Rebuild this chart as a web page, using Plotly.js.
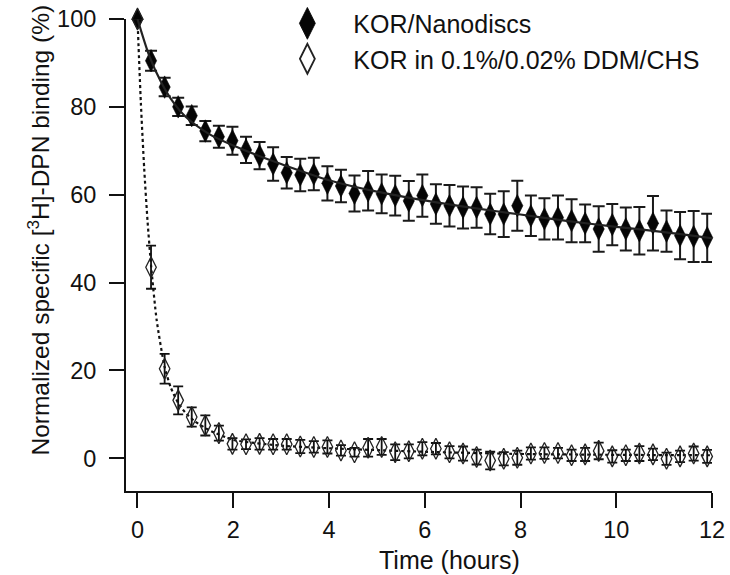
<!DOCTYPE html>
<html>
<head>
<meta charset="utf-8">
<script src="https://cdn.plot.ly/plotly-3.0.1.min.js"></script>
<style>html,body{margin:0;padding:0;background:#fff;}#chart{width:730px;height:575px;}</style>
</head>
<body>
<div id="chart"></div>
<script>
// Time points (hours), one every 17 min
var timeHours = [0, 0.283, 0.567, 0.85, 1.133, 1.417, 1.7, 1.983, 2.267, 2.55, 2.833, 3.117, 3.4, 3.683, 3.967, 4.25, 4.533, 4.817, 5.1, 5.383, 5.667, 5.95, 6.233, 6.517, 6.8, 7.083, 7.367, 7.65, 7.933, 8.217, 8.5, 8.783, 9.067, 9.35, 9.633, 9.917, 10.2, 10.483, 10.767, 11.05, 11.333, 11.617, 11.9];

// KOR/Nanodiscs
var nanodiscMean = [100, 90.5, 84.5, 80, 78, 74.5, 73.2, 72.3, 70.2, 68.9, 67, 65, 64.5, 64.7, 62.6, 62, 60.3, 60.9, 60.2, 59.8, 58.6, 59.8, 57.9, 57.5, 57.1, 57.1, 55.6, 55.6, 57.5, 55.2, 54.5, 54.8, 54.1, 53.5, 52.2, 53.2, 52.2, 51.8, 53.5, 51.7, 50.7, 50.5, 50.2];
var nanodiscErr = [0, 2.3, 2.1, 2.1, 2.1, 2.3, 2.5, 3.2, 3.0, 3.1, 3.8, 3.6, 3.7, 3.7, 3.9, 3.7, 4.1, 4.5, 4.4, 4.5, 4.5, 4.8, 4.5, 4.7, 4.8, 4.6, 4.6, 5.2, 5.7, 4.6, 4.7, 5.0, 4.9, 4.3, 5.2, 4.7, 4.9, 5.4, 6.2, 4.7, 5.4, 5.8, 5.5];

// KOR in 0.1%/0.02% DDM/CHS
var detergentMean = [100, 43.5, 20.4, 13.2, 9.4, 7.5, 5.75, 3.3, 3.2, 3.3, 3.2, 3.2, 2.7, 2.6, 2.6, 1.8, 1.4, 2.4, 2.6, 1.4, 1.6, 2.2, 2.2, 1.4, 1.1, 0.3, -0.5, -0.1, 0.15, 1.1, 1.2, 1.2, 0.7, 0.9, 1.7, 0.45, 0.7, 1.1, 0.9, -0.1, 0.45, 1.1, 0.45];
var detergentErr = [0, 4.9, 3.4, 3.2, 2.2, 2.3, 1.7, 1.3, 1.1, 1.3, 1.2, 1.2, 1.5, 1.3, 1.5, 1.2, 1.0, 2.0, 1.8, 1.8, 1.6, 1.5, 1.3, 1.4, 1.6, 1.7, 2.0, 1.5, 1.6, 1.4, 1.3, 1.2, 1.3, 1.5, 1.9, 1.4, 1.3, 1.7, 1.3, 1.4, 1.3, 1.6, 1.5];

// Fitted curves
var nanodiscFitT = [0, 0.25, 0.5, 0.75, 1, 1.5, 2, 2.5, 3, 4, 5, 6, 7, 8, 9, 10, 11, 12];
var nanodiscFitY = [100, 91.5, 85.5, 81, 77.8, 73.8, 71.2, 69, 67, 63.3, 60.7, 58.7, 57, 55.5, 54, 52.7, 51.5, 50.1];
var detergentFitT = [0, 0.07, 0.14, 0.21, 0.283, 0.4, 0.567, 0.7, 0.85, 1.0, 1.2, 1.5, 2, 3, 4, 6, 8, 10, 12];
var detergentFitY = [100, 81, 66, 54, 44, 31.5, 20.8, 16, 12.6, 10.4, 8.4, 6.4, 4.2, 2.9, 2.3, 1.5, 1.0, 0.8, 0.7];

var seriesNames = ['KOR/Nanodiscs', 'KOR in 0.1%/0.02% DDM/CHS'];
var xTicks = [0, 2, 4, 6, 8, 10, 12];
var yTicks = [0, 20, 40, 60, 80, 100];

var FONT = 'Arial, "Liberation Sans", Helvetica, sans-serif';
var INK = '#111111';

var traces = [
  {
    x: detergentFitT, y: detergentFitY, mode: 'lines', type: 'scatter',
    line: {color: INK, width: 2.2, dash: 'dot', shape: 'spline', smoothing: 0.6},
    showlegend: false, hoverinfo: 'skip', cliponaxis: false
  },
  {
    x: timeHours, y: nanodiscMean, mode: 'markers', type: 'scatter', name: seriesNames[0],
    marker: {symbol: 'diamond-tall', size: 16, color: '#050505', line: {color: '#050505', width: 0.6}},
    error_y: {type: 'data', array: nanodiscErr, visible: true, color: '#1a1a1a', thickness: 2, width: 6},
    cliponaxis: false
  },
  {
    x: timeHours, y: detergentMean, mode: 'markers', type: 'scatter', name: seriesNames[1],
    marker: {symbol: 'diamond-tall-open', size: 15, color: '#222222', line: {color: '#222222', width: 1.3}},
    error_y: {type: 'data', array: detergentErr, visible: true, color: '#111111', thickness: 1.8, width: 5},
    cliponaxis: false
  },
  {
    x: nanodiscFitT, y: nanodiscFitY, mode: 'lines', type: 'scatter',
    line: {color: '#222222', width: 2.2, shape: 'spline', smoothing: 0.8},
    showlegend: false, hoverinfo: 'skip', cliponaxis: false
  }
];

var layout = {
  width: 730, height: 575,
  margin: {l: 125.5, r: 18.3, t: 18.5, b: 84, pad: 0, autoexpand: false},
  paper_bgcolor: '#ffffff', plot_bgcolor: '#ffffff',
  font: {family: FONT, color: INK, size: 23},
  showlegend: true,
  hovermode: false,
  legend: {
    x: 0.231, y: 1.039, xanchor: 'left', yanchor: 'top',
    font: {family: FONT, size: 25, color: INK},
    bgcolor: 'rgba(0,0,0,0)', borderwidth: 0,
    itemwidth: 82, traceorder: 'grouped', tracegroupgap: 2
  },
  xaxis: {
    range: [-0.24, 12], tickvals: xTicks, ticktext: xTicks.map(String),
    showline: true, linecolor: INK, linewidth: 2,
    ticks: 'outside', ticklen: 15, tickwidth: 2, tickcolor: INK,
    showgrid: false, zeroline: false, ticklabelstandoff: 2,
    tickfont: {family: FONT, size: 23.5, color: INK}
  },
  yaxis: {
    range: [-7.43, 100], tickvals: yTicks, ticktext: yTicks.map(String),
    showline: true, linecolor: INK, linewidth: 2,
    ticks: 'outside', ticklen: 15, tickwidth: 2, tickcolor: INK,
    showgrid: false, zeroline: false, ticklabelstandoff: 8,
    tickfont: {family: FONT, size: 23.5, color: INK}
  },
  annotations: [
    {
      text: 'Normalized specific [<sup>3</sup>H]-DPN binding (%)',
      xref: 'paper', yref: 'paper', x: -0.15, y: 0.552,
      xanchor: 'center', yanchor: 'middle', textangle: -90, showarrow: false,
      font: {family: FONT, size: 24.5, color: INK}
    },
    {
      text: 'Time (hours)',
      xref: 'paper', yref: 'paper', x: 0.552, y: -0.146,
      xanchor: 'center', yanchor: 'middle', showarrow: false,
      font: {family: FONT, size: 25, color: INK}
    }
  ]
};

Plotly.newPlot('chart', traces, layout, {staticPlot: true, displayModeBar: false}).then(function (gd) {
  // enlarge the legend symbols (legend caps marker size)
  var pts = gd.querySelectorAll('.legend .legendpoints path.scatterpts');
  pts.forEach(function (p) {
    var t = p.getAttribute('transform') || '';
    p.setAttribute('transform', t + ' scale(1.42)');
  });
});
</script>
</body>
</html>
